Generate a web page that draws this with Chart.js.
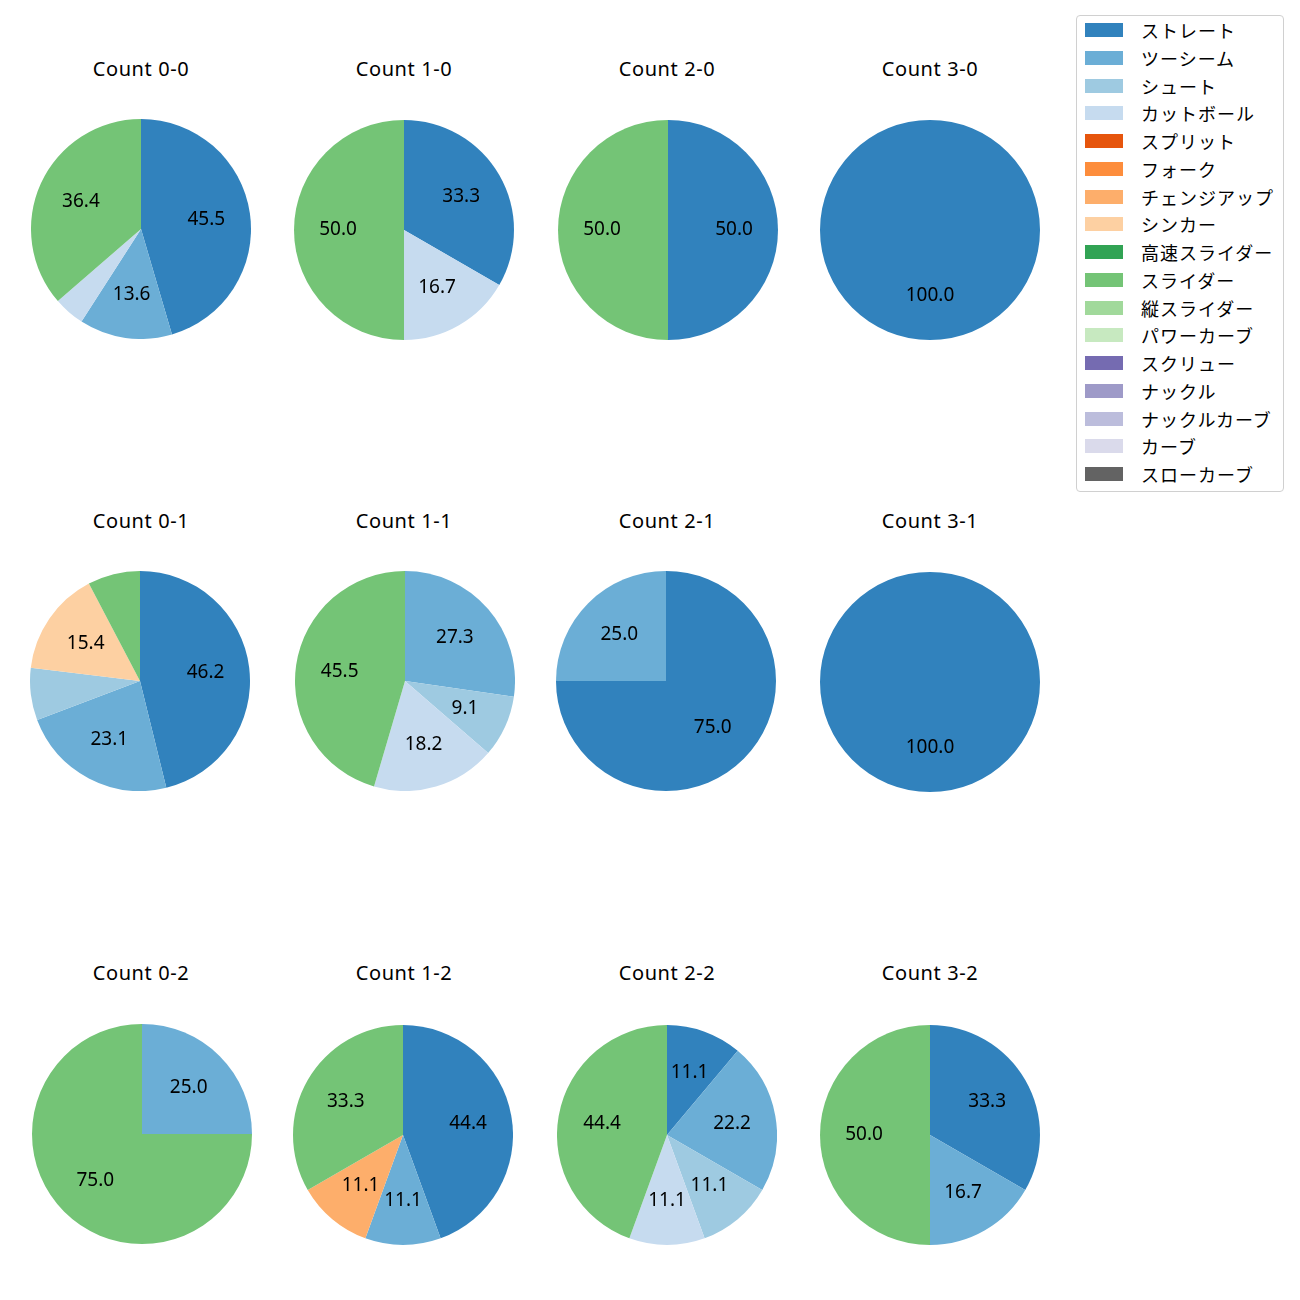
<!DOCTYPE html>
<html>
<head>
<meta charset="utf-8">
<script src="https://cdn.jsdelivr.net/npm/chart.js@4"></script>
<style>
body{margin:0;background:#fff;font-family:"Noto Sans","Noto Sans CJK JP",sans-serif;}
#wrap{position:relative;width:1300px;height:1300px;}
.ttl{position:absolute;width:240px;margin-left:-120px;text-align:center;font-size:20px;color:#000;line-height:22px;letter-spacing:0.6px;}
canvas{position:absolute;}
#legend{position:absolute;left:1076px;top:15px;width:208px;height:477px;border:1px solid #d0d0d0;border-radius:4px;box-sizing:border-box;}
.li{position:absolute;left:8px;height:22px;font-size:18px;line-height:22px;color:#000;font-family:"Noto Sans CJK JP",sans-serif;}
.sw{position:absolute;left:0;top:4px;width:38px;height:14px;}
.lt{position:absolute;left:56px;top:0;white-space:nowrap;letter-spacing:1px;}
</style>
</head>
<body>
<div id="wrap"><div id="legend"></div></div>
<script>
document.addEventListener("DOMContentLoaded", function(){

const pitchTypes = ["ストレート","ツーシーム","シュート","カットボール","スプリット","フォーク","チェンジアップ","シンカー","高速スライダー","スライダー","縦スライダー","パワーカーブ","スクリュー","ナックル","ナックルカーブ","カーブ","スローカーブ"];
const pitchColors = ["#3182bd","#6baed6","#9ecae1","#c6dbef","#e6550d","#fd8d3c","#fdae6b","#fdd0a2","#31a354","#74c476","#a1d99b","#c7e9c0","#756bb1","#9e9ac8","#bcbddc","#dadaeb","#636363"];

const countLabels = ["0-0","1-0","2-0","3-0","0-1","1-1","2-1","3-1","0-2","1-2","2-2","3-2"];

// pitch counts per ball-strike count, in pitchTypes order
const c00 = [10,3,0,1,0,0,0,0,0,8,0,0,0,0,0,0,0];
const c10 = [2,0,0,1,0,0,0,0,0,3,0,0,0,0,0,0,0];
const c20 = [1,0,0,0,0,0,0,0,0,1,0,0,0,0,0,0,0];
const c30 = [1,0,0,0,0,0,0,0,0,0,0,0,0,0,0,0,0];
const c01 = [6,3,1,0,0,0,0,2,0,1,0,0,0,0,0,0,0];
const c11 = [0,3,1,2,0,0,0,0,0,5,0,0,0,0,0,0,0];
const c21 = [3,1,0,0,0,0,0,0,0,0,0,0,0,0,0,0,0];
const c31 = [1,0,0,0,0,0,0,0,0,0,0,0,0,0,0,0,0];
const c02 = [0,1,0,0,0,0,0,0,0,3,0,0,0,0,0,0,0];
const c12 = [4,1,0,0,0,0,1,0,0,3,0,0,0,0,0,0,0];
const c22 = [1,2,1,1,0,0,0,0,0,4,0,0,0,0,0,0,0];
const c32 = [2,1,0,0,0,0,0,0,0,3,0,0,0,0,0,0,0];
const countValues = [c00,c10,c20,c30,c01,c11,c21,c31,c02,c12,c22,c32];

// layout
const colX = [141,404,667,930];
const titleY = [69,521,973];
const pieCenters = [
[140.5,229],[404,230],[667.5,230],[930,229.5],
[140,681],[405,681],[666,681],[930,682],
[142,1134],[402.5,1135],[667,1135],[930,1135]
];
const R = 110;

const wrap = document.getElementById("wrap");

const pctLabels = {
id:"pctLabels",
afterDatasetsDraw(chart){
const ctx = chart.ctx;
const meta = chart.getDatasetMeta(0);
const vals = chart.data.datasets[0].data;
const total = vals.reduce((a,b)=>a+b,0);
ctx.save();
ctx.font = "19px 'Noto Sans', sans-serif";
ctx.fillStyle = "#000";
ctx.textAlign = "center";
ctx.textBaseline = "middle";
meta.data.forEach(function(arc,i){
const pct = vals[i]/total*100;
if(pct < 8) return;
const p = arc.getProps(["x","y","startAngle","endAngle","outerRadius"],true);
const mid = (p.startAngle+p.endAngle)/2;
const rr = p.outerRadius*0.6;
ctx.fillText(pct.toFixed(1), p.x+Math.cos(mid)*rr, p.y+Math.sin(mid)*rr);
});
ctx.restore();
}
};

countLabels.forEach(function(lab,k){
const t = document.createElement("div");
t.className = "ttl";
t.textContent = "Count " + lab;
t.style.left = colX[k%4] + "px";
t.style.top = (titleY[Math.floor(k/4)] - 11) + "px";
wrap.appendChild(t);

const cv = document.createElement("canvas");
const size = 2*R;
cv.width = size; cv.height = size;
cv.style.width = size+"px"; cv.style.height = size+"px";
cv.style.left = (pieCenters[k][0]-R) + "px";
cv.style.top = (pieCenters[k][1]-R) + "px";
wrap.appendChild(cv);

new Chart(cv,{
type:"pie",
data:{
labels:pitchTypes,
datasets:[{
data:countValues[k],
backgroundColor:pitchColors,
borderWidth:0
}]
},
options:{
responsive:false,
devicePixelRatio:1,
animation:false,
layout:{padding:0},
plugins:{
legend:{display:false},
tooltip:{enabled:false}
}
},
plugins:[pctLabels]
});
});

const lg = document.getElementById("legend");
pitchTypes.forEach(function(name,i){
const row = document.createElement("div");
row.className = "li";
row.style.top = (3 + i*27.75) + "px";
const sw = document.createElement("div");
sw.className = "sw";
sw.style.background = pitchColors[i];
const tx = document.createElement("div");
tx.className = "lt";
tx.textContent = name;
row.appendChild(sw); row.appendChild(tx);
lg.appendChild(row);
});

});
</script>
</body>
</html>
